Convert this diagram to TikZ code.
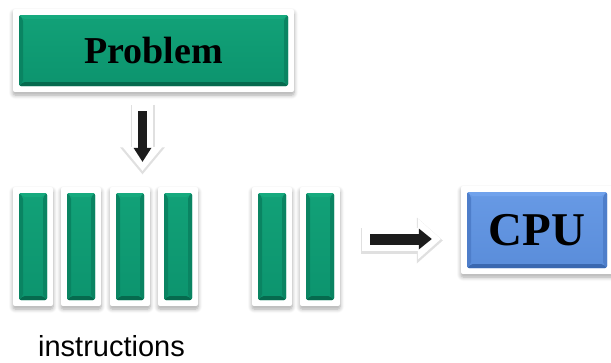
\documentclass[tikz,border=0pt]{standalone}
\usepackage{fontspec}
\setmainfont{Liberation Serif}
\newfontfamily\labelfont{Liberation Sans}
\usetikzlibrary{calc,arrows.meta,shadows.blur}

\definecolor{tealbase}{RGB}{12,148,110}
\definecolor{teallight}{RGB}{22,170,126}
\definecolor{tealdark}{RGB}{6,106,78}
\definecolor{tealside}{RGB}{10,132,98}
\definecolor{bluebase}{RGB}{90,141,218}
\definecolor{bluelight}{RGB}{112,162,236}
\definecolor{bluedark}{RGB}{58,104,176}
\definecolor{blueside}{RGB}{78,126,202}
\definecolor{arrowink}{RGB}{28,28,28}
\definecolor{haze}{RGB}{224,224,224}

% bevelled face inside a white frame: #1 base, #2 light edge, #3 dark edge, #4 side edge
\newcommand\bevelface[4]{%
  \coordinate (fA) at ($(path picture bounding box.north west)+(6,6)$);
  \coordinate (fB) at ($(path picture bounding box.south east)+(-6,-6)$);
  \shade[top color=#2!60!#1, bottom color=#1] (fA) rectangle (fB);
  \fill[#2] (fA) -- (fA -| fB) -- ++(-4,4) -- ($(fA)+(4,4)$) -- cycle;
  \fill[#3] (fB) -- (fB -| fA) -- ++(4,-4) -- ($(fB)+(-4,-4)$) -- cycle;
  \fill[#4] (fA) -- (fB -| fA) -- ++(4,-4) -- ($(fA)+(4,4)$) -- cycle;
  \fill[#4] (fB) -- (fA -| fB) -- ++(-4,4) -- ($(fB)+(-4,-4)$) -- cycle;
}

\tikzset{
  tile/.style={fill=white, rounded corners=2pt, inner sep=0pt,
    blur shadow={shadow xshift=0pt, shadow yshift=-3pt, shadow blur steps=6,
                 shadow opacity=35, shadow blur radius=4pt}},
  greentile/.style={tile, path picture={\bevelface{tealbase}{teallight}{tealdark}{tealside}}},
  bluetile/.style={tile, path picture={\bevelface{bluebase}{bluelight}{bluedark}{blueside}}},
  bar/.style={greentile, minimum width=40pt, minimum height=119pt},
  blockarrow/.style={draw=arrowink, line width=#1},
  % white rim with a faint halo around a block arrow: #1 rim width, #2 rim shape,
  % #3 halo width, #4 halo shape
  outline/.style n args={4}{
    preaction={draw=haze, line width=#3, line join=round,
               transform canvas={yshift=-1.5pt}, #4},
    preaction={draw=white, line width=#1, #2}},
}

\begin{document}
\begin{tikzpicture}[x=1pt, y=-1pt]
  \useasboundingbox (0,0) rectangle (611,362);

  % top box
  \node[greentile, minimum width=281pt, minimum height=83pt,
        font=\fontsize{38}{40}\selectfont\bfseries] (problem) at (153.5,50.5) {Problem};

  % instruction bars
  \node[bar] (bar1) at (33,246.5) {};
  \node[bar] (bar2) at (81,246.5) {};
  \node[bar] (bar3) at (130,246.5) {};
  \node[bar] (bar4) at (178,246.5) {};
  \node[bar] (bar5) at (272,246.5) {};
  \node[bar] (bar6) at (320,246.5) {};

  % processor
  \node[bluetile, minimum width=152pt, minimum height=88pt,
        font=\fontsize{47}{50}\selectfont\bfseries] (cpu) at (537,230) {CPU};

  % caption
  \node[anchor=base, inner sep=0pt, font=\labelfont\fontsize{29}{32}\selectfont]
    (caption) at (111.5,356.5) {instructions};

  % problem feeds the instruction stream
  \draw[blockarrow=9pt, shorten <=19pt, shorten >=25pt,
        -{Triangle[length=14pt,width=18pt,line width=0pt]},
        outline={21pt}{shorten <=12pt, shorten >=16pt,
                 -{Triangle[length=24pt,width=40pt,line width=0pt]}}
                {24pt}{shorten <=11pt, shorten >=14pt,
                 -{Triangle[length=27pt,width=45pt,line width=0pt]}}]
    ([xshift=-11pt]problem.south) -- ([xshift=-11pt]problem.south |- bar3.north);

  % instructions go to the processor
  \draw[blockarrow=11pt, shorten <=30pt, shorten >=29pt,
        -{Triangle[length=13pt,width=21pt,line width=0pt]},
        outline={23pt}{shorten <=22pt, shorten >=20pt,
                 -{Triangle[length=23pt,width=41pt,line width=0pt]}}
                {26pt}{shorten <=20.5pt, shorten >=18pt,
                 -{Triangle[length=26pt,width=46pt,line width=0pt]}}]
    ([yshift=-9pt]cpu.west -| bar6.east) -- ([yshift=-9pt]cpu.west);
\end{tikzpicture}
\end{document}
